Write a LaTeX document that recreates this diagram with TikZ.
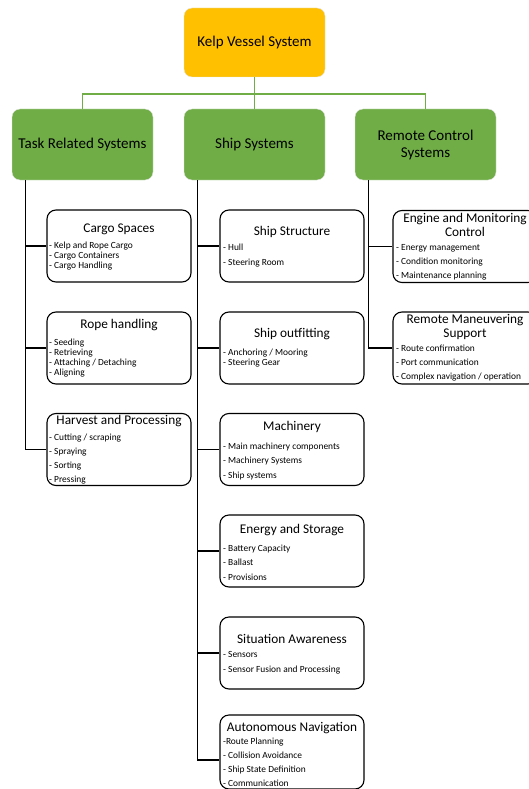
\documentclass[tikz,border=0pt]{standalone}
\usepackage{fontspec}
\setmainfont{Carlito}
\usepackage{xcolor}
\usetikzlibrary{positioning,calc}
\definecolor{kelpgold}{HTML}{FFC000}
\definecolor{kelpgreen}{HTML}{70AD47}

\begin{document}
\begin{tikzpicture}[
  x=1pt,y=-1pt,
  m/.style={rounded corners=8pt,minimum width=141pt,minimum height=71pt,align=center,inner sep=3pt,font=\fontsize{15}{17}\selectfont},
  root/.style={m,fill=kelpgold,draw=gray!20,minimum height=69pt},
  grp/.style={m,fill=kelpgreen,draw=gray!20},
  sub/.style={draw,line width=1.1pt,rounded corners=9pt,minimum width=144pt,minimum height=72pt},
  ttl/.style={align=center,inner sep=0pt,font=\fontsize{13.3}{#1}\selectfont},
  ttl/.default=14pt,
  itm/.style={anchor=north west,align=left,inner sep=0pt,font=\fontsize{9.4}{#1}\selectfont},
  itm/.default=14pt,
  tree/.style={kelpgreen,line width=1.5pt},
  a/.style={line width=1.1pt}
]
\useasboundingbox (0,0) rectangle (528,789);

% top level
\node[root] (kvs)    at (254.5,42.5)  {Kelp Vessel System};
\node[grp]  (task)   at (82.5,144.5)  {Task Related Systems};
\node[grp]  (ship)   at (254.5,144.5) {Ship Systems};
\node[grp]  (remote) at (425.5,144.5) {Remote Control\\Systems};

\coordinate (bus) at (254.5,94);
\draw[tree] (kvs.south) -- (ship.north);
\draw[tree] (task.north) |- (bus) -| (remote.north);

% task related
\node[sub] (cargo)   at (119,246)   {};
\node[sub] (rope)    at (119,348)   {};
\node[sub] (harvest) at (119,449.5) {};

\node[ttl] (cargoT)   at (119,229) {Cargo Spaces};
\node[ttl] (ropeT)    at (119,325) {Rope handling};
\node[ttl] (harvestT) at (119,421) {Harvest and Processing};

\node[itm=10pt] (cargoL) at (49,242)   {- Kelp and Rope Cargo\\- Cargo Containers\\- Cargo Handling};
\node[itm=10pt] (ropeL)  at (49,339)   {- Seeding\\- Retrieving\\- Attaching / Detaching\\- Aligning};
\node[itm]      (harvestL) at (49,434) {- Cutting / scraping\\- Spraying\\- Sorting\\- Pressing};

% ship systems
\node[sub] (struct) at (292,246)   {};
\node[sub] (outfit) at (292,348)   {};
\node[sub] (mach)   at (292,449.5) {};
\node[sub] (energy) at (292,551)   {};
\node[sub] (aware)  at (292,653)   {};
\node[sub,minimum height=74pt] (nav) at (292,752) {};

\node[ttl] (structT) at (292,232) {Ship Structure};
\node[ttl] (outfitT) at (292,334) {Ship outfitting};
\node[ttl] (machT)   at (292,427) {Machinery};
\node[ttl] (energyT) at (292,530) {Energy and Storage};
\node[ttl] (awareT)  at (292,639) {Situation Awareness};
\node[ttl] (navT)    at (292,728) {Autonomous Navigation};

\node[itm=15pt] (structL) at (223,244) {- Hull\\- Steering Room};
\node[itm=10pt] (outfitL) at (223,349) {- Anchoring / Mooring\\- Steering Gear};
\node[itm=14.5pt] (machL) at (223,442.5) {- Main machinery components\\- Machinery Systems\\- Ship systems};
\node[itm=14.5pt] (energyL) at (223,544.5) {- Battery Capacity\\- Ballast\\- Provisions};
\node[itm=15pt] (awareL)  at (223,651) {- Sensors\\- Sensor Fusion and Processing};
\node[itm]      (navL)    at (223,738) {-Route Planning\\- Collision Avoidance\\- Ship State Definition\\- Communication};

% remote control
\node[sub] (engine)  at (465,246.5) {};
\node[sub] (manoeuv) at (465,348)   {};

\node[ttl] (engineT)  at (465,225) {Engine and Monitoring\\Control};
\node[ttl] (manoeuvT) at (465,327) {Remote Maneuvering\\Support};

\node[itm]        (engineL)  at (396,244) {- Energy management\\- Condition monitoring\\- Maintenance planning};
\node[itm=13.8pt] (manoeuvL) at (396,345) {- Route confirmation\\- Port communication\\- Complex navigation / operation};

% branches
\coordinate (tcol) at ([xshift=13.5pt]task.south west);
\coordinate (scol) at ([xshift=13.5pt]ship.south west);
\coordinate (rcol) at ([xshift=13.5pt]remote.south west);
\coordinate (navin) at ([yshift=-8pt]nav.west);

\draw[a] (tcol) |- (harvest.west);
\foreach \x in {cargo,rope} \draw[a] (tcol |- \x.west) -- (\x.west);
\draw[a] (scol) |- (navin);
\foreach \x in {struct,outfit,mach,energy,aware} \draw[a] (scol |- \x.west) -- (\x.west);
\draw[a] (rcol) |- (manoeuv.west);
\draw[a] (rcol |- engine.west) -- (engine.west);
\end{tikzpicture}
\end{document}
